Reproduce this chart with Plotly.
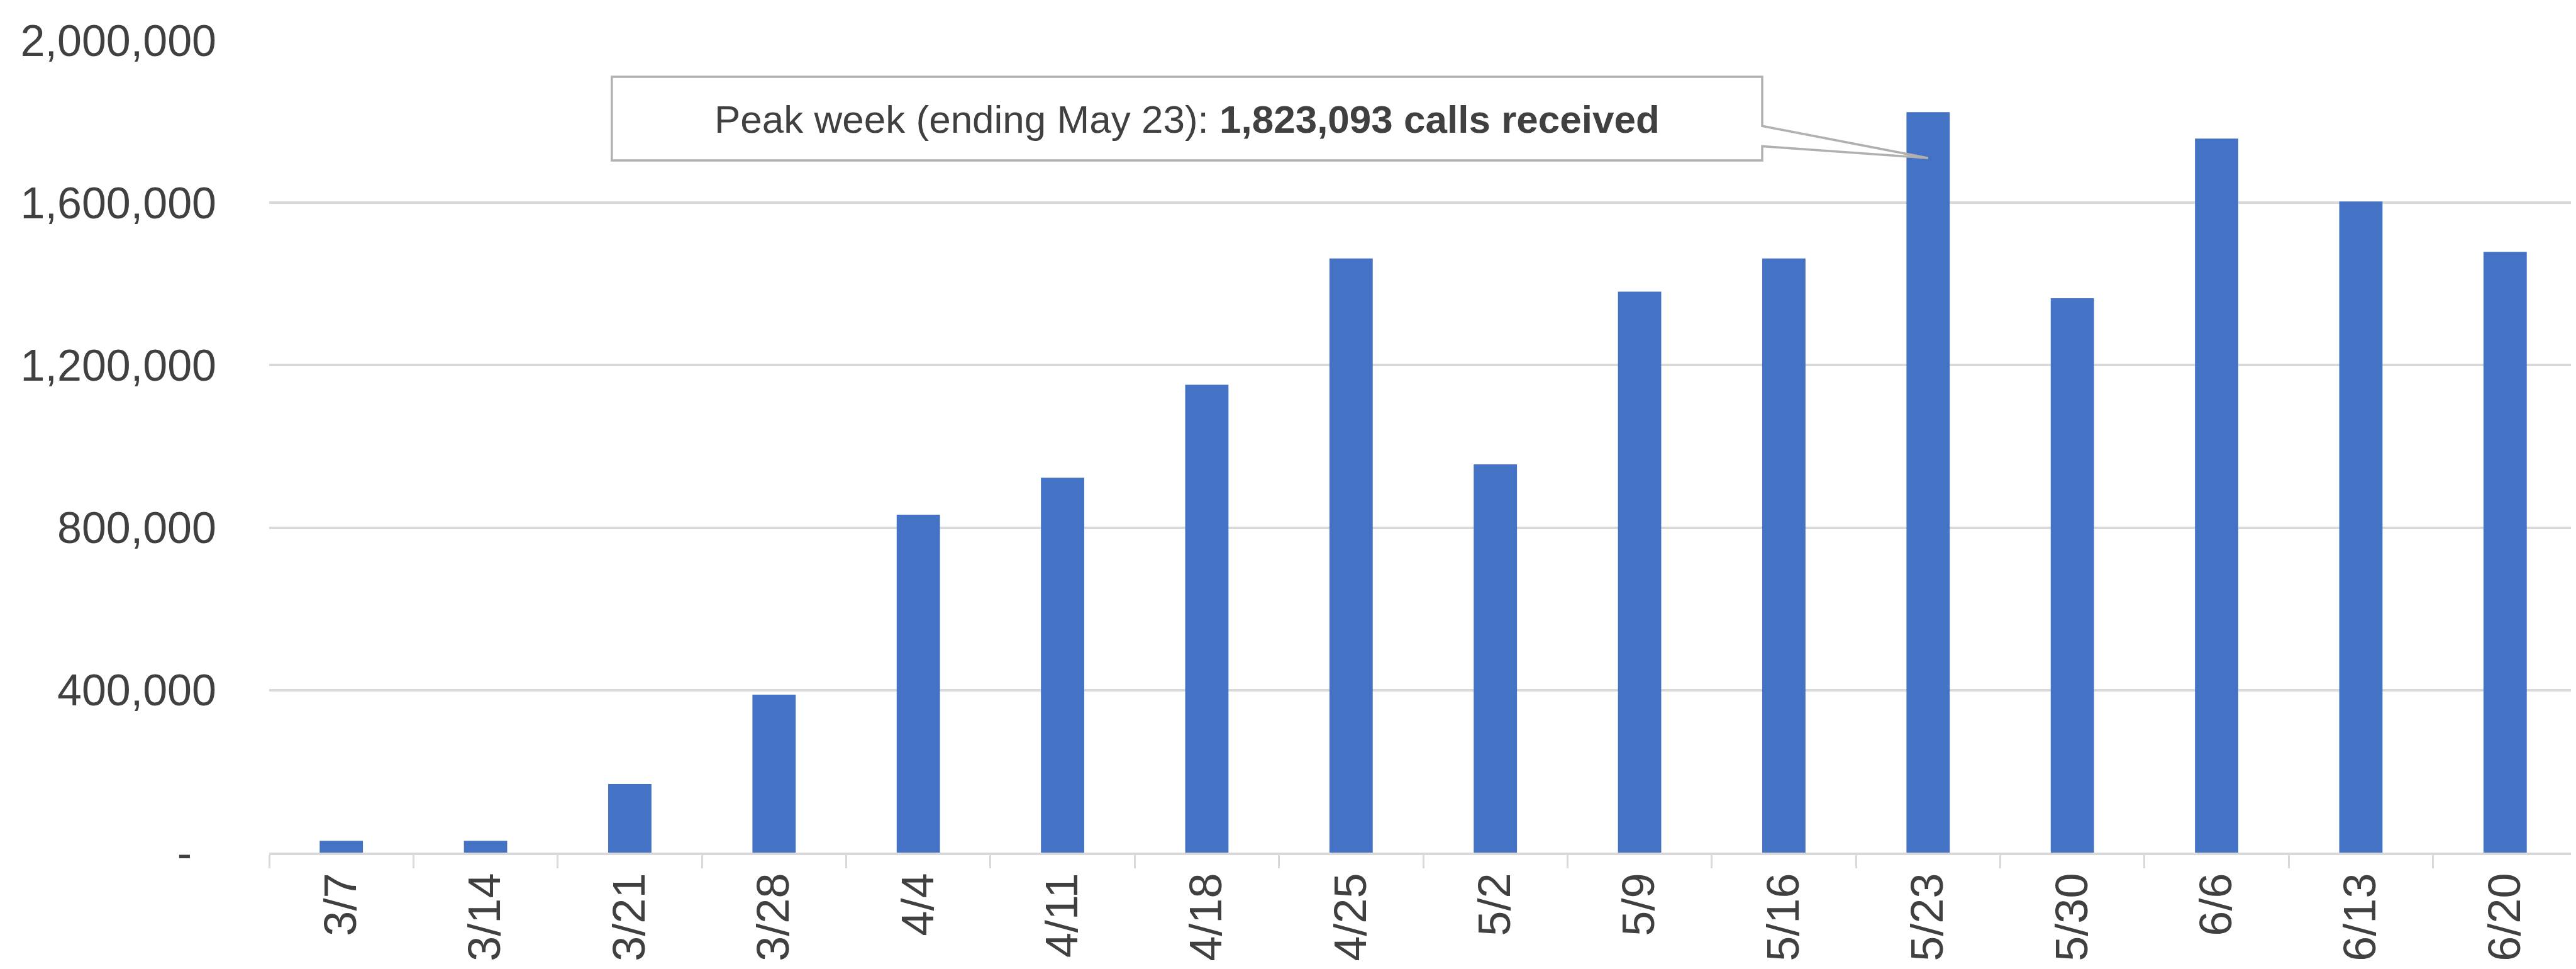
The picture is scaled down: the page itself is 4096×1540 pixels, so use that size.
import plotly.graph_objects as go

# ---- data ----
weeks = ["3/7", "3/14", "3/21", "3/28", "4/4", "4/11", "4/18", "4/25",
         "5/2", "5/9", "5/16", "5/23", "5/30", "6/6", "6/13", "6/20"]
calls = [29000, 29000, 169000, 389000, 832000, 923000, 1152000, 1463000,
         956000, 1381000, 1463000, 1823093, 1365000, 1758000, 1603000, 1479000]
y_tick_vals = [0, 400000, 800000, 1200000, 1600000, 2000000]
y_tick_text = ["-\u00a0\u00a0", "400,000", "800,000", "1,200,000", "1,600,000", "2,000,000"]
callout_text = "Peak week (ending May 23): <b>1,823,093 calls received</b>"

# ---- styling ----
FONT = "Liberation Sans, Arial, sans-serif"
TXT = "#404040"
GRID = "#d9d9d9"
BAR = "#4472C4"

peak_idx = calls.index(max(calls))

# callout geometry (x in category index units, y in data units)
bx0, bx1 = 1.875, 9.85
by0, by1 = 1704000, 1910000
w_hi, w_lo = 1789000, 1739000
tip_x, tip_y = peak_idx, 1710000

path = (f"M {bx0},{by1} L {bx1},{by1} L {bx1},{w_hi} L {tip_x},{tip_y} "
        f"L {bx1},{w_lo} L {bx1},{by0} L {bx0},{by0} Z")

fig = go.Figure()
fig.add_trace(go.Bar(x=weeks, y=calls, marker=dict(color=BAR, line=dict(width=0)),
                     showlegend=False))

fig.add_shape(type="path", path=path, xref="x", yref="y",
              fillcolor="white", line=dict(color="#b0b0b0", width=3.5), layer="above")
fig.add_annotation(x=(bx0 + bx1) / 2, y=1805000, xref="x", yref="y",
                   text=callout_text, showarrow=False,
                   font=dict(family=FONT, size=62, color=TXT),
                   xanchor="center", yanchor="middle")

fig.update_layout(
    width=4096, height=1540,
    margin=dict(l=420, r=6, t=56, b=193),
    paper_bgcolor="white", plot_bgcolor="white",
    bargap=0.7,
    font=dict(family=FONT, color=TXT),
)
fig.update_xaxes(
    type="category", range=[-0.5, 15.5], tickson="boundaries",
    ticks="outside", ticklen=21, tickwidth=3, tickcolor=GRID,
    showline=True, linecolor=GRID, linewidth=3.5,
    tickangle=-90, tickfont=dict(family=FONT, size=72, color=TXT),
    showgrid=False, ticklabelstandoff=0,
)
fig.update_yaxes(
    range=[0, 2000000], tickmode="array", tickvals=y_tick_vals, ticktext=y_tick_text,
    showgrid=True, gridcolor=GRID, gridwidth=3.5, zeroline=False, showline=False,
    ticks="", tickfont=dict(family=FONT, size=70, color=TXT), ticklabelstandoff=83,
)

fig.write_html("out.html")
